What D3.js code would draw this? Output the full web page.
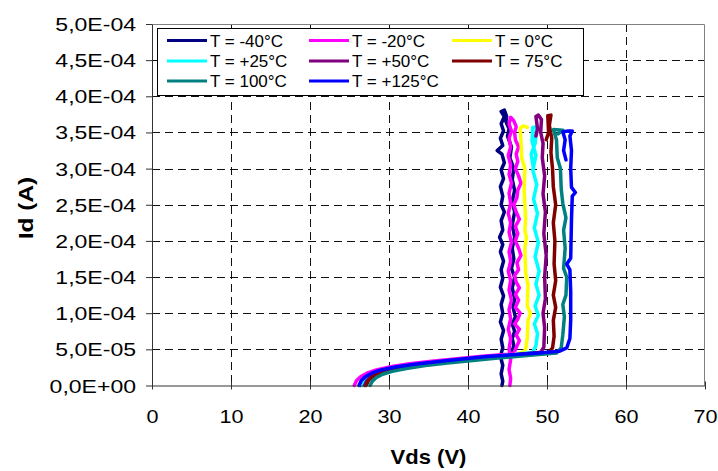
<!DOCTYPE html>
<html>
<head>
<meta charset="utf-8">
<script src="https://cdn.jsdelivr.net/npm/d3@7"></script>
<style>
  html, body { margin: 0; padding: 0; background: #fff; }
  svg { display: block; font-family: "Liberation Sans", Arial, sans-serif; }
</style>
</head>
<body>
<svg id="chart" width="718" height="471"></svg>
<script>
// ---------------- DATA ----------------
const seriesNames = ["T = -40°C", "T = -20°C", "T = 0°C", "T = +25°C", "T = +50°C", "T = 75°C", "T = 100°C", "T = +125°C"];
const seriesColors = ["#000080", "#FF00FF", "#FFFF00", "#00FFFF", "#800080", "#800000", "#008080", "#0000FF"];
const vdsTicks = [0, 10, 20, 30, 40, 50, 60, 70];
const idTicks = [0, 5e-5, 1e-4, 1.5e-4, 2e-4, 2.5e-4, 3e-4, 3.5e-4, 4e-4, 4.5e-4, 5e-4];
const idTickLabels = ["0,0E+00", "5,0E-05", "1,0E-04", "1,5E-04", "2,0E-04", "2,5E-04", "3,0E-04", "3,5E-04", "4,0E-04", "4,5E-04", "5,0E-04"];

// each point: [Vds (V), Id (µA)]
const tM40 = [[26.4,0],[26.7,7],[27.2,12],[28,17],[29.2,21],[31,25],[33.4,29],[36.2,32.5],[39.4,36],[42.6,39.5],[45.4,42.5],
  [45.8,55],[45.6,65],[45.9,75],[45.6,85],[46.0,95],[45.7,108],[45.9,120],[45.6,135],[45.9,150],[45.5,162],[45.8,175],[45.6,190],[45.9,205],[45.6,222],[45.9,240],[45.6,255],[45.9,270],[45.6,285],[45.8,300],[45.3,315],[45.5,330],[45.0,345],[45.2,355],[44.8,365],[44.9,372],[44.6,381],
  [44.2,379],[44.6,372],[44.2,362],[44.5,352],[44.1,342],[44.4,332],[43.7,325],[44.3,320],[44.6,308],[44.2,298],[44.5,286],[44.1,275],[44.4,262],[44.2,250],[44.6,240],[44.2,228],[44.4,215],[44.0,205],[44.4,195],[44.1,185],[44.5,172],[44.2,160],[44.4,148],[44.1,136],[44.5,124],[44.2,112],[44.4,100],[44.1,88],[44.5,76],[44.2,64],[44.4,52],[44.1,40],[44.4,28],[44.2,16],[44.4,6],[44.3,0]];
const tM20 = [[25.6,0],[25.9,7],[26.4,12],[27.2,17],[28.4,21.5],[30.2,26],[32.6,30],[35.4,33.5],[38.6,37],[41.8,40.5],[44.6,43],[45.8,44.5],
  [46.2,55],[46.5,62],[46.1,70],[46.5,78],[45.9,85],[46.3,92],[46.6,100],[46.0,108],[46.4,118],[46.0,126],[46.5,135],[46.1,143],[45.9,152],[46.4,160],[46.2,170],[46.7,180],[46.4,190],[46.0,200],[46.3,210],[46.0,220],[46.5,230],[46.1,240],[45.8,250],[46.2,260],[46.3,270],[46.7,280],[46.4,290],[46.0,300],[46.3,310],[46.1,320],[46.4,330],[46.0,340],[45.9,350],[46.1,358],[45.8,366],[45.4,371],
  [45.2,362],[45.5,352],[45.2,342],[45.4,330],[45.1,318],[45.4,305],[45.2,292],[45.5,280],[45.2,266],[45.4,252],[45.1,238],[45.4,225],[45.2,212],[45.5,198],[45.2,185],[45.4,172],[45.1,158],[45.4,145],[45.2,132],[45.5,118],[45.2,105],[45.4,92],[45.1,78],[45.4,65],[45.2,50],[45.4,36],[45.2,22],[45.4,10],[45.3,0]];
const t0 = [[26.8,0],[27.1,7],[27.6,12],[28.4,17],[29.6,21],[31.4,25],[33.8,29],[36.6,32.5],[39.8,36],[43,39.5],[45.8,42.5],[47.0,46],
  [47.3,50],[47.5,65],[47.6,90],[47.9,100],[47.5,110],[47.6,140],[47.3,155],[47.2,190],[47.4,205],[47.2,215],[47.3,230],[47.1,270],[47.2,300],[46.8,315],[46.7,340],[46.6,356],[47.0,359],[47.5,357]];
const tP25 = [[26.6,0],[26.9,7],[27.4,12],[28.2,17],[29.4,21],[31.2,25],[33.6,29],[36.4,32.5],[39.6,36],[42.8,39.5],[46,43],[48.2,46],
  [48.6,55],[48.8,72],[48.4,85],[48.9,97],[48.5,110],[49.0,125],[48.6,140],[49.0,158],[48.5,178],[48.9,198],[48.4,218],[48.8,238],[48.3,258],[48.7,278],[48.2,298],[48.6,318],[48.1,338],[48.2,357],[48.7,358],[48.5,335],[48.0,320],[48.3,300]];
const tP50 = [[26.9,0],[27.2,7],[27.7,12],[28.5,17],[29.7,21],[31.5,25],[33.9,29],[36.7,32.5],[39.9,36],[43.1,39.5],[46.3,43],[49.2,46],
  [49.6,53],[49.7,80],[49.5,100],[49.8,120],[49.7,150],[49.9,180],[49.6,210],[49.8,240],[49.5,265],[49.7,290],[49.4,315],[49.5,335],[49.2,350],[49.3,368],[48.9,374],[48.6,372],[48.8,355],[48.6,345]];
const tP75 = [[27.1,0],[27.4,7],[27.9,12],[28.7,17],[29.9,21],[31.7,25],[34.1,29],[36.9,32.5],[40.1,36],[43.3,39.5],[46.8,43],[50.2,45.5],
  [50.7,52],[50.9,68],[50.8,90],[51.1,108],[50.8,125],[51.1,145],[50.9,168],[51.0,200],[50.8,225],[51.1,250],[50.8,275],[50.7,300],[50.5,322],[50.6,342],[50.3,360],[50.5,374],[50.1,373],[50.2,350],[49.9,340]];
const tP100 = [[27.6,0],[27.9,6],[28.4,11],[29.2,15.5],[30.4,19.5],[32.2,23.5],[34.6,27.5],[37.4,31],[40.6,34.5],[43.8,38],[47.5,41.5],[51.2,45],
  [51.8,52],[52.0,70],[52.2,95],[52.0,112],[52.4,125],[52.5,150],[52.1,162],[52.3,190],[52.1,215],[52.4,232],[52.0,252],[51.8,272],[51.7,300],[51.3,315],[51.2,340],[50.8,354],[52.0,353],[51.4,348]];
const tP125 = [[26.2,0],[26.5,7],[27.0,12],[27.8,17],[29.0,21.5],[30.8,25.5],[33.2,29.5],[36.0,33],[39.2,36.5],[42.4,40],[45.6,42.5],[49,45],[51.6,47.5],[52.5,52],
  [52.9,65],[53.0,90],[53.0,130],[52.9,160],[52.5,168],[53.0,176],[53.1,230],[53.2,262],[53.6,267],[53.1,274],[53.0,300],[53.1,325],[52.9,345],[53.2,352],[52.7,352],[52.0,351],[52.3,340],[52.1,325],[52.4,312]];
const seriesData = [tM40, tM20, t0, tP25, tP50, tP75, tP100, tP125];

// ---------------- LAYOUT ----------------
const svg = d3.select("#chart");
const plot = { left: 152, right: 705, top: 24, bottom: 385.5 };
const x = d3.scaleLinear().domain([0, 70]).range([plot.left, plot.right]);
const y = d3.scaleLinear().domain([0, 5e-4]).range([plot.bottom, plot.top]);

svg.append("rect").attr("x", plot.left).attr("y", plot.top)
  .attr("width", plot.right - plot.left).attr("height", plot.bottom - plot.top)
  .attr("fill", "#fff");

// gridlines
const grid = svg.append("g").attr("stroke", "#111").attr("stroke-width", 1).attr("stroke-dasharray", "8,5");
grid.selectAll("line.v").data(vdsTicks.filter(d => d > 0 && d < 70)).join("line")
  .attr("x1", d => Math.round(x(d)) + 0.5).attr("x2", d => Math.round(x(d)) + 0.5)
  .attr("y1", plot.top).attr("y2", plot.bottom);
grid.selectAll("line.h").data(idTicks.filter(d => d > 0 && d < 5e-4)).join("line")
  .attr("y1", d => Math.round(y(d)) + 0.5).attr("y2", d => Math.round(y(d)) + 0.5)
  .attr("x1", plot.left).attr("x2", plot.right);

// plot border top/right
svg.append("path")
  .attr("d", `M${plot.left},${plot.top + 0.5}H${plot.right - 0.5}V${plot.bottom}`)
  .attr("fill", "none").attr("stroke", "#808080").attr("stroke-width", 1);

// series
const line = d3.line().x(d => x(d[0])).y(d => y(d[1] * 1e-6));
svg.append("g").selectAll("path").data(seriesData).join("path")
  .attr("d", d => line(d))
  .attr("fill", "none")
  .attr("stroke", (d, i) => seriesColors[i])
  .attr("stroke-width", 3.5)
  .attr("stroke-linejoin", "round")
  .attr("stroke-linecap", "round");

// axes
const xAxis = svg.append("g").attr("transform", `translate(0,${plot.bottom})`)
  .call(d3.axisBottom(x).tickValues(vdsTicks).tickSizeOuter(0).tickSizeInner(4).tickFormat(d3.format("d")));
xAxis.select(".domain").attr("stroke", "#333");
xAxis.selectAll(".tick line").attr("y1", -4).attr("y2", 4).attr("stroke", "#333");
xAxis.selectAll(".tick text")
  .attr("font-family", "'Liberation Sans', Arial, sans-serif")
  .attr("font-size", 18).attr("fill", "#000")
  .attr("y", 0).attr("dy", null)
  .attr("transform", "translate(0,37.5) scale(1.2,1)");

const yAxis = svg.append("g").attr("transform", `translate(${plot.left},0)`)
  .call(d3.axisLeft(y).tickValues(idTicks).tickSizeOuter(0).tickSizeInner(6)
    .tickFormat((d, i) => idTickLabels[i]));
yAxis.select(".domain").attr("stroke", "#333");
yAxis.selectAll(".tick line").attr("stroke", "#333");
yAxis.selectAll(".tick text")
  .attr("font-family", "'Liberation Sans', Arial, sans-serif")
  .attr("font-size", 18).attr("fill", "#000")
  .attr("x", 0).attr("dy", null).attr("y", 0)
  .attr("transform", "translate(-16,6.5) scale(1.28,1)");

// axis titles
svg.append("text")
  .attr("text-anchor", "middle")
  .attr("font-weight", "bold").attr("font-size", 20)
  .attr("transform", `translate(${(plot.left + plot.right) / 2},464) scale(1.1,1)`)
  .text("Vds (V)");
svg.append("text")
  .attr("text-anchor", "middle")
  .attr("font-weight", "bold").attr("font-size", 20)
  .attr("transform", `translate(33,208) rotate(-90) scale(1.22,1)`)
  .text("Id (A)");

// legend
const legend = svg.append("g");
legend.append("rect").attr("x", 157.5).attr("y", 28.5).attr("width", 426).attr("height", 67)
  .attr("fill", "#fff").attr("stroke", "#000").attr("stroke-width", 1);
const colX = [167, 309, 452];
const rowY = [40.5, 61, 81];
const items = legend.selectAll("g.item").data(seriesNames).join("g")
  .attr("transform", (d, i) => `translate(${colX[i % 3]},${rowY[Math.floor(i / 3)]})`);
items.append("line").attr("x1", 0).attr("x2", 40).attr("y1", 0).attr("y2", 0)
  .attr("stroke", (d, i) => seriesColors[i]).attr("stroke-width", 3);
items.append("text").attr("x", 43).attr("y", 6).attr("font-size", 17).attr("fill", "#000")
  .text(d => d);
</script>
</body>
</html>
